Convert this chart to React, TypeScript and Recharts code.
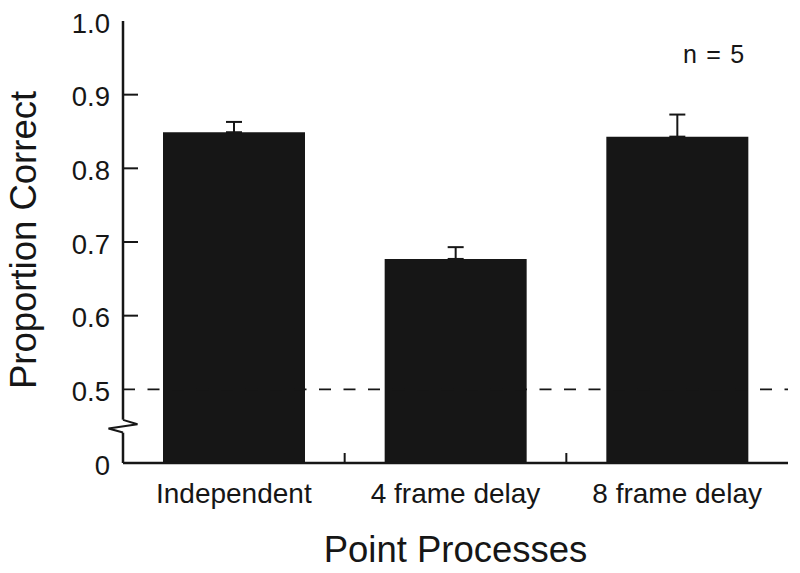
import React from "react";
import { BarChart, Bar, XAxis, YAxis, ReferenceLine, ErrorBar } from "recharts";

const categories = ["Independent", "4 frame delay", "8 frame delay"];
const proportionCorrect = [0.849, 0.677, 0.843];
const upperError = [0.014, 0.016, 0.03];
const yTicks = [0.4, 0.5, 0.6, 0.7, 0.8, 0.9, 1.0];
const innerTicks = [0.6, 0.7, 0.8, 0.9];
const chanceLevel = 0.5;
const axisBreakAt = 0.45;
const sampleLabel = "n = 5";

const data = categories.map((name, i) => ({
  name,
  value: proportionCorrect[i],
  err: [0, upperError[i]],
}));

const FONT = '"Liberation Sans", Arial, Helvetica, sans-serif';
const INK = "#161616";
const X_TICK_GAP = 20;

function YTick(props: any) {
  const { x, y, payload } = props;
  const v = payload.value;
  return (
    <g>
      <text
        x={x}
        y={y}
        dy="0.42em"
        textAnchor="end"
        fontSize={27.5}
        fontFamily={FONT}
        fill={INK}
      >
        {v === 0.4 ? "0" : v.toFixed(1)}
      </text>
      {innerTicks.includes(v) && (
        <line x1={x + 13} x2={x + 28} y1={y} y2={y} stroke={INK} strokeWidth={2} />
      )}
    </g>
  );
}

function XTick(props: any) {
  const { x, y, payload, index } = props;
  const half = payload.offset ?? 0;
  const axisY = y - X_TICK_GAP;
  return (
    <g>
      <text
        x={x}
        y={y}
        dy="0.71em"
        textAnchor="middle"
        fontSize={28}
        fontFamily={FONT}
        fill={INK}
      >
        {payload.value}
      </text>
      {index < categories.length - 1 && half > 0 && (
        <line
          x1={x + half}
          x2={x + half}
          y1={axisY}
          y2={axisY - 10}
          stroke={INK}
          strokeWidth={2}
        />
      )}
    </g>
  );
}

function YTitle(props: any) {
  const vb = props.viewBox;
  const cx = vb.x + 36;
  const cy = vb.y + vb.height / 2 - 2;
  return (
    <text
      x={cx}
      y={cy}
      transform={`rotate(-90 ${cx} ${cy})`}
      textAnchor="middle"
      fontSize={36.5}
      fontFamily={FONT}
      fill={INK}
    >
      Proportion Correct
    </text>
  );
}

function AxisBreak(props: any) {
  const { x1, y1 } = props;
  return (
    <g>
      <line x1={x1} x2={x1} y1={y1 - 6.5} y2={y1 + 6.5} stroke="#ffffff" strokeWidth={5} />
      <polyline
        points={`${x1},${y1 - 6.3} ${x1 + 14.5},${y1 - 2} ${x1 - 14.5},${y1 + 2.3} ${x1},${y1 + 6.3}`}
        fill="none"
        stroke={INK}
        strokeWidth={2}
        strokeLinejoin="miter"
      />
    </g>
  );
}

export default function App() {
  return (
    <div style={{ position: "absolute", left: 0, top: 0, width: 800, height: 573, background: "#fff" }}>
      <BarChart
        width={800}
        height={573}
        data={data}
        margin={{ top: 21, right: 12, left: 0, bottom: 0 }}
      >
        <XAxis
          dataKey="name"
          height={110}
          axisLine={{ stroke: INK, strokeWidth: 2.5 }}
          tickLine={false}
          tickSize={0}
          tickMargin={X_TICK_GAP}
          tick={<XTick />}
          interval={0}
          label={{
            value: "Point Processes",
            position: "insideBottom",
            offset: 11,
            fontSize: 36.5,
            fontFamily: FONT,
            fill: INK,
          }}
        />
        <XAxis
          xAxisId="top"
          dataKey="name"
          orientation="top"
          height={0}
          tick={false}
          tickLine={false}
          axisLine={{ stroke: INK, strokeWidth: 2.5 }}
        />
        <YAxis
          width={123}
          domain={[0.4, 1.0]}
          ticks={yTicks}
          interval={0}
          axisLine={{ stroke: INK, strokeWidth: 2.5 }}
          tickLine={false}
          tickSize={0}
          tickMargin={13}
          tick={<YTick />}
          label={YTitle}
        />
        <YAxis
          yAxisId="right"
          orientation="right"
          width={0}
          domain={[0.4, 1.0]}
          tick={false}
          tickLine={false}
          axisLine={{ stroke: INK, strokeWidth: 2.5 }}
        />
        <ReferenceLine
          y={chanceLevel}
          stroke={INK}
          strokeWidth={1.6}
          strokeDasharray="12 12.5"
        />
        <Bar dataKey="value" fill={INK} barSize={142} isAnimationActive={false}>
          <ErrorBar dataKey="err" direction="y" width={8} stroke={INK} strokeWidth={2} />
        </Bar>
        <ReferenceLine y={axisBreakAt} zIndex={1000} shape={<AxisBreak />} />
      </BarChart>
      <div
        style={{
          position: "absolute",
          left: 683,
          top: 41.5,
          fontSize: 25,
          lineHeight: 1,
          letterSpacing: 1.2,
          fontFamily: FONT,
          color: INK,
          whiteSpace: "nowrap",
        }}
      >
        {sampleLabel}
      </div>
    </div>
  );
}
